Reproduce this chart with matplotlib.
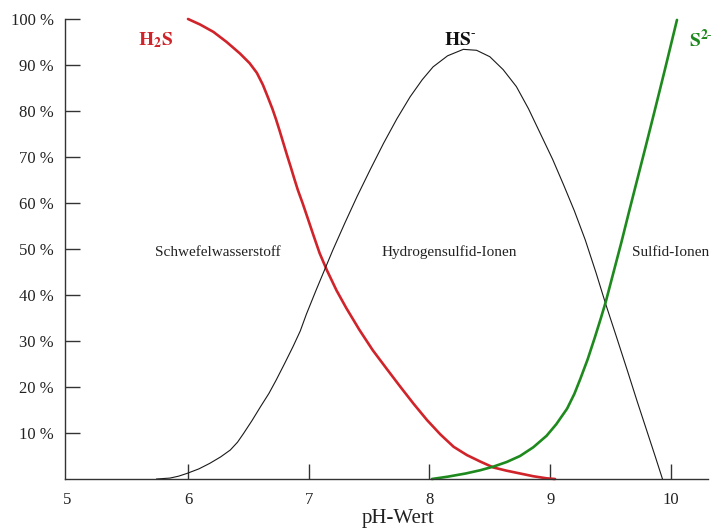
import matplotlib
matplotlib.use("Agg")
from matplotlib import pyplot as plt

plt.rcParams["font.family"] = ["Liberation Serif", "DejaVu Serif"]
plt.rcParams["mathtext.fontset"] = "stix"

# pH / percentage readings of the three species
h2s_ph = [6.00, 6.10, 6.21, 6.32, 6.43, 6.51, 6.57, 6.62, 6.66, 6.70, 6.73,
          6.76, 6.79, 6.82, 6.85, 6.88, 6.91, 6.95, 6.99, 7.04, 7.09, 7.15,
          7.23, 7.31, 7.42, 7.53, 7.65, 7.76, 7.87, 7.98, 8.09, 8.20, 8.31,
          8.42, 8.53, 8.64, 8.75, 8.86, 8.97, 9.04]
h2s_pct = [100, 98.8, 97.2, 95.0, 92.5, 90.4, 88.3, 85.7, 83.1, 80.4, 78.1,
           75.6, 73.0, 70.4, 67.9, 65.3, 62.8, 59.9, 56.8, 52.9, 49.1, 45.4,
           41.0, 37.2, 32.4, 28.0, 23.8, 20.0, 16.3, 12.8, 9.7, 7.0, 5.2,
           3.8, 2.5, 1.8, 1.2, 0.6, 0.15, 0]

hs_ph = [5.74, 5.85, 5.92, 5.99, 6.09, 6.18, 6.27, 6.35, 6.41, 6.46, 6.53,
         6.60, 6.67, 6.73, 6.80, 6.87, 6.93, 6.98, 7.06, 7.13, 7.20, 7.30,
         7.40, 7.51, 7.62, 7.73, 7.84, 7.94, 8.03, 8.15, 8.28, 8.39, 8.50,
         8.61, 8.72, 8.82, 8.92, 9.02, 9.11, 9.20, 9.29, 9.38, 9.46, 9.55,
         9.64, 9.72, 9.80, 9.87, 9.93]
hs_pct = [0, 0.2, 0.6, 1.2, 2.2, 3.4, 4.8, 6.3, 8.0, 9.9, 12.7,
          15.7, 18.6, 21.5, 25.1, 28.8, 32.2, 35.8, 41.0, 45.4, 49.8, 55.7,
          61.4, 67.3, 73.0, 78.3, 83.1, 86.8, 89.6, 92.0, 93.4, 93.2, 91.8,
          89.0, 85.3, 80.5, 75.0, 69.5, 64.0, 58.3, 52.0, 44.8, 38.0, 30.8,
          23.5, 16.9, 10.5, 4.9, 0]

s2_ph = [8.02, 8.15, 8.30, 8.42, 8.53, 8.64, 8.75, 8.86, 8.97, 9.05, 9.14,
         9.20, 9.25, 9.31, 9.37, 9.42, 9.46, 9.52, 9.59, 9.65, 9.72, 9.79,
         9.86, 9.95, 10.05]
s2_pct = [0, 0.5, 1.2, 1.9, 2.7, 3.7, 5.0, 6.9, 9.4, 11.9, 15.3,
          18.5, 21.8, 26.0, 30.8, 35.0, 38.5, 44.5, 51.5, 57.8, 65.0, 72.2,
          79.5, 89.0, 99.8]

y_ticks = [10, 20, 30, 40, 50, 60, 70, 80, 90, 100]
x_ticks = [5, 6, 7, 8, 9, 10]

red = "#d0232a"
green = "#1e8a1e"

fig = plt.figure(figsize=(7.24, 5.28), dpi=100)
ax = fig.add_axes([65 / 724, 49 / 528, 643 / 724, 460 / 528])

ax.plot(h2s_ph, h2s_pct, color=red, lw=1.9, clip_on=False,
        solid_capstyle="round", solid_joinstyle="round")
ax.plot(hs_ph, hs_pct, color="#1a1a1a", lw=0.8, clip_on=False,
        solid_joinstyle="round")
ax.plot(s2_ph, s2_pct, color=green, lw=1.9, clip_on=False,
        solid_capstyle="round", solid_joinstyle="round")

ax.set_xlim(4.981, 10.307)
ax.set_ylim(0, 100)

for side in ["top", "right"]:
    ax.spines[side].set_visible(False)
for side in ["left", "bottom"]:
    ax.spines[side].set_color("#333333")
    ax.spines[side].set_linewidth(1.0)

ax.set_yticks(y_ticks)
ax.set_yticklabels([f"{v} %" for v in y_ticks])
ax.set_xticks(x_ticks)
ax.set_xticklabels([str(v) for v in x_ticks])
ax.tick_params(axis="both", direction="in", length=11, width=1.0,
               color="#333333", labelsize=12, labelcolor="#222222")
ax.tick_params(axis="y", pad=8)
ax.tick_params(axis="x", pad=9)
ax.xaxis.get_major_ticks()[0].tick1line.set_visible(False)

# species labels
ax.text(5.73, 95.4, r"$\mathbf{H_2S}$", color=red, fontsize=14,
        ha="center", va="center")
ax.text(8.25, 95.4, r"$\mathbf{HS}^{\text{-}}$", color="#111111",
        fontsize=14, ha="center", va="center")
ax.text(10.25, 95.4, r"$\mathbf{S}^{\mathbf{2}\text{-}}$", color=green,
        fontsize=14, ha="center", va="center")

ax.text(6.25, 49.3, "Schwefelwasserstoff", fontsize=11, color="#222222",
        ha="center", va="center")
ax.text(8.16, 49.3, "Hydrogensulfid-Ionen", fontsize=11, color="#222222",
        ha="center", va="center")
ax.text(10.0, 49.3, "Sulfid-Ionen", fontsize=11, color="#222222",
        ha="center", va="center")

fig.text(398 / 724, 1 - 518 / 528, "pH-Wert", fontsize=15,
         color="#222222", ha="center", va="center")

fig.savefig("out.png", dpi=100)
